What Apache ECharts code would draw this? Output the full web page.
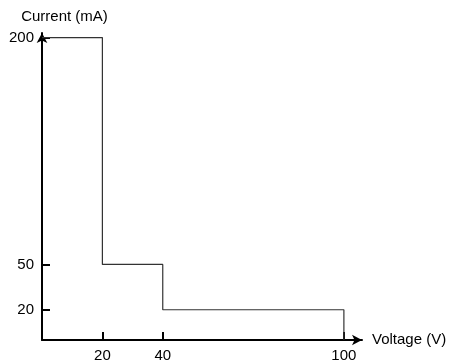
<!DOCTYPE html>
<html>
	<head>
		<meta charset="utf-8">
		<title>Current vs Voltage</title>
		<style type="text/css">
			html, body{
				margin: 0;
				padding: 0;
				background: #fff;
			}
			#chart{
				width: 451px;
				height: 363px;
			}
		</style>
	</head>
	<body>
		<div id="chart"></div>

		<script src="https://cdn.jsdelivr.net/npm/echarts@6/dist/echarts.min.js"></script>
		<script>
			// 数据
			var voltage = [0, 20, 20, 40, 40, 100, 100];
			var current = [200, 200, 50, 50, 20, 20, 0];
			var xTicks = [20, 40, 100];
			var yTicks = [20, 50, 200];

			var font = 'Liberation Sans, Arial, sans-serif';
			var points = voltage.map(function(v, i){
				return [v, current[i]];
			});

			var myChart = echarts.init(document.getElementById('chart'));

			var axisCommon = {
				type: 'value',
				nameLocation: 'end',
				splitLine: { show: false },
				axisLine: {
					show: true,
					symbol: ['none', 'arrow'],
					symbolSize: [8, 10],
					lineStyle: { color: '#000', width: 2 }
				},
				axisTick: {
					show: true,
					inside: true,
					length: 8,
					lineStyle: { color: '#000', width: 2 }
				}
			};

			var option = {
				animation: false,
				grid: {
					left: 42,
					right: 89,
					top: 33,
					bottom: 23
				},
				xAxis: Object.assign({}, axisCommon, {
					min: 0,
					max: 106,
					name: 'Voltage (V)',
					nameGap: 10,
					nameTextStyle: { color: '#000', fontSize: 15, fontFamily: font },
					axisTick: Object.assign({}, axisCommon.axisTick, { customValues: xTicks }),
					axisLabel: {
						customValues: xTicks,
						color: '#000',
						fontSize: 15,
						fontFamily: font,
						margin: 8
					}
				}),
				yAxis: Object.assign({}, axisCommon, {
					min: 0,
					max: 203,
					name: 'Current (mA)',
					nameGap: 9,
					nameTextStyle: {
						color: '#000',
						fontSize: 15,
						fontFamily: font,
						align: 'center',
						padding: [0, 0, 0, 45]
					},
					axisTick: Object.assign({}, axisCommon.axisTick, { customValues: yTicks }),
					axisLabel: {
						customValues: yTicks,
						color: '#000',
						fontSize: 15,
						fontFamily: font,
						margin: 8
					}
				}),
				series: [{
					type: 'line',
					data: points,
					symbol: 'none',
					lineStyle: { color: '#333', width: 1.2 }
				}]
			};

			myChart.setOption(option);
		</script>
	</body>
</html>
